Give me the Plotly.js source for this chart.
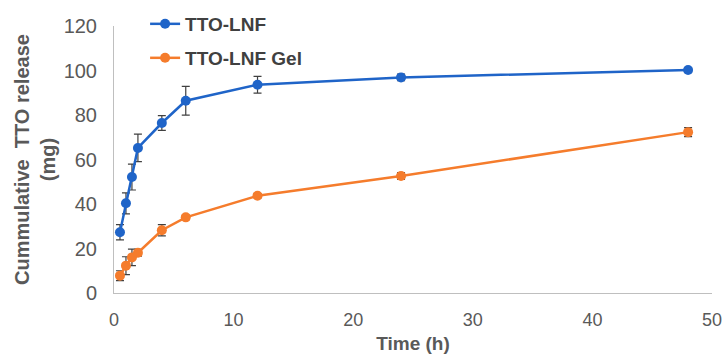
<!DOCTYPE html>
<html>
<head>
<meta charset="utf-8">
<script src="https://cdn.plot.ly/plotly-3.0.1.min.js"></script>
<style>html,body{margin:0;padding:0;background:#fff;}#chart{width:728px;height:354px;}</style>
</head>
<body>
<div id="chart"></div>
<script>
const timeH = [0.5, 1, 1.5, 2, 4, 6, 12, 24, 48];
const lnfRelease = [27.3, 40.3, 52.1, 65.2, 76.4, 86.4, 93.6, 96.9, 100.2];
const lnfError = [3.4, 4.7, 5.8, 6.2, 3.3, 6.5, 3.8, 1.5, 1.0];
const gelRelease = [7.8, 12.3, 16.0, 18.1, 28.2, 34.0, 43.7, 52.6, 72.3];
const gelError = [2.2, 4.0, 3.7, 1.5, 2.5, 1.0, 1.0, 1.5, 2.0];
const seriesNames = ['TTO-LNF', 'TTO-LNF Gel'];

const gray = '#595959';
const font = 'Liberation Sans, Arial, sans-serif';

function makeTrace(y, err, name, color, legendId) {
  return {
    x: timeH, y: y, name: name, type: 'scatter', mode: 'lines+markers',
    legend: legendId,
    line: {color: color, width: 2.5},
    marker: {color: color, size: 10, symbol: 'circle'},
    error_y: {type: 'data', array: err, visible: true, color: '#404040', thickness: 1.2, width: 4}
  };
}

const data = [
  makeTrace(lnfRelease, lnfError, seriesNames[0], '#1f64c8', 'legend'),
  makeTrace(gelRelease, gelError, seriesNames[1], '#f57c2c', 'legend2')
];

const legendFont = {family: font, size: 19, color: '#404040', weight: 'bold'};

const layout = {
  width: 728, height: 354,
  margin: {l: 114, r: 16, t: 0, b: 61},
  paper_bgcolor: '#fff', plot_bgcolor: '#fff',
  font: {family: font, color: gray},
  showlegend: true,
  legend: {x: 0.052, xanchor: 'left', y: 0.983, yanchor: 'top', bgcolor: 'rgba(0,0,0,0)', font: legendFont},
  legend2: {x: 0.052, xanchor: 'left', y: 0.867, yanchor: 'top', bgcolor: 'rgba(0,0,0,0)', font: legendFont},
  xaxis: {
    range: [0, 50], dtick: 10, tick0: 0,
    showline: true, linecolor: '#bfbfbf', linewidth: 1,
    showgrid: false, zeroline: false, ticks: '',
    tickfont: {size: 18, color: gray}, ticklabelstandoff: 10,
    title: {text: 'Time (h)', font: {size: 19, color: gray, weight: 'bold'}, standoff: 9}
  },
  yaxis: {
    domain: [0, 0.91126],
    range: [0, 120], dtick: 20, tick0: 0,
    showline: true, linecolor: '#bfbfbf', linewidth: 1,
    showgrid: false, zeroline: false, ticks: '',
    tickfont: {size: 20, color: gray}, ticklabelstandoff: 12,
    title: {text: 'Cummulative  TTO release<br>(mg)', font: {size: 20, color: gray, weight: 'bold'}, standoff: 2}
  }
};

Plotly.newPlot('chart', data, layout, {displayModeBar: false, staticPlot: true});
</script>
</body>
</html>
